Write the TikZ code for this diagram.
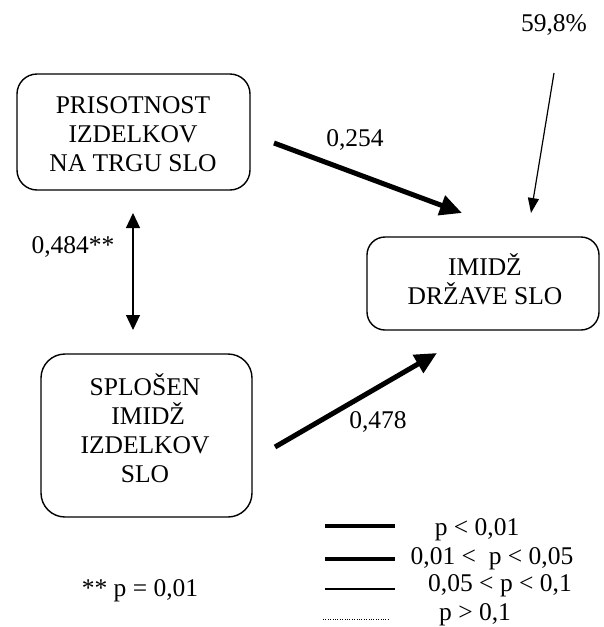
\documentclass[tikz,border=0pt]{standalone}
\usepackage{fontspec}
\setmainfont{Liberation Serif}
\usetikzlibrary{arrows.meta}

\begin{document}
\begin{tikzpicture}[x=1pt,y=-1pt,
  panel/.style={draw, line width=1.4pt, rounded corners=20pt, inner sep=0pt},
  paneltext/.style={align=center, inner sep=0pt, font=\fontsize{25.5}{29}\selectfont},
  lbl/.style={inner sep=0pt, anchor=base, font=\fontsize{25.5}{29}\selectfont},
  strong/.style={line width=5pt, -{Triangle[length=22pt,width=20pt]}},
  corr/.style={line width=1.2pt, {Triangle[length=15pt,width=14pt]}-{Triangle[length=15pt,width=14pt]}},
  resid/.style={line width=1.2pt, -{Triangle[length=15pt,width=11pt]}},
  key/.style={line cap=butt},
]
\useasboundingbox (0,0) rectangle (603,627);

% latent constructs
\node[panel, minimum width=233pt, minimum height=116pt] (pris) at (133.5,132) {};
\node[paneltext] (prisT) at (133,134) {PRISOTNOST\\IZDELKOV\\NA TRGU SLO};

\node[panel, minimum width=232pt, minimum height=93pt, rounded corners=18pt] (drz) at (483,283.5) {};
\node[paneltext] (drzT) at (485,279.6) {IMIDŽ\\DRŽAVE SLO};

\node[panel, minimum width=211pt, minimum height=163pt, rounded corners=24pt] (splo) at (146.5,435.5) {};
\node[paneltext] (sploT) at (145,428.6) {SPLOŠEN\\\hspace*{0.25em}IMIDŽ\\IZDELKOV\\SLO};

% path ends
\coordinate (p1s) at (274,143);
\coordinate (p1e) at (462,213);
\coordinate (p2s) at (275,447);
\coordinate (p2e) at (437,353);
\coordinate (rs) at (554,73);
\coordinate (re) at (531,213);
\coordinate (ct) at (133,213);
\coordinate (cb) at (133,330);

% paths
\draw[strong] (p1s) -- (p1e);
\draw[strong] (p2s) -- (p2e);
\draw[resid] (rs) -- (re);
\draw[corr] (ct) -- (cb);

% coefficients
\node[lbl] (k254) at (355,146.5) {0,254};
\node[lbl] (k478) at (378,428.5) {0,478};
\node[lbl] (k484) at (73,253) {0,484**};
\node[lbl] (k598) at (554,31.5) {59,8\%};
\node[lbl] (note) at (140,596.5) {** p = 0,01};

% legend
\draw[key, line width=4pt] (325,526) -- (395,526);
\draw[key, line width=3.6pt] (325,559) -- (395,559);
\draw[key, line width=2.6pt] (325,589) -- (395,589);
\draw[line width=0.8pt, dash pattern=on 0.8pt off 1.6pt] (323,619) -- (390,619);
\node[lbl] (g1) at (477,535.5) {p < 0,01};
\node[lbl] (g2) at (492,564.5) {0,01 <\ \ p < 0,05};
\node[lbl] (g3) at (500,591.5) {0,05 < p < 0,1};
\node[lbl] (g4) at (475,620.5) {p > 0,1};
\end{tikzpicture}
\end{document}
